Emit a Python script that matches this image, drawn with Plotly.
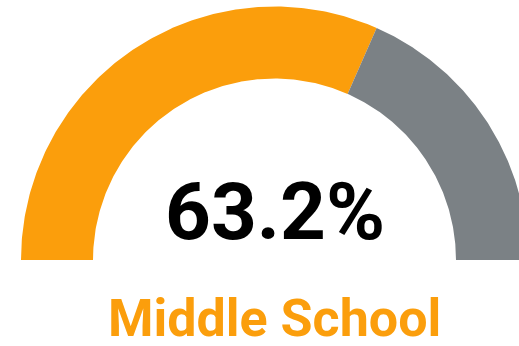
import numpy as np
import plotly.graph_objects as go

# Data
category = "Middle School"
value_pct = 63.2
remainder_pct = 100 - value_pct
colors = ["#FB9E0C", "#7B8185"]

R_OUT = 253.5
R_IN = 181.5

def arc(start_frac, end_frac, n=200):
    # fractions of the half circle measured from the left end (180 deg) clockwise
    a0 = np.pi * (1 - start_frac)
    a1 = np.pi * (1 - end_frac)
    t = np.linspace(a0, a1, n)
    xo, yo = R_OUT * np.cos(t), R_OUT * np.sin(t)
    xi, yi = R_IN * np.cos(t[::-1]), R_IN * np.sin(t[::-1])
    x = np.concatenate([xo, xi, xo[:1]])
    y = np.concatenate([yo, yi, yo[:1]])
    return x, y

fig = go.Figure()
segments = [(0, value_pct / 100), (value_pct / 100, 1)]
for (s, e), c in zip(segments, colors):
    x, y = arc(s, e)
    fig.add_trace(go.Scatter(x=x, y=y, fill="toself", fillcolor=c, mode="lines",
                             line=dict(width=0, color=c), hoverinfo="skip",
                             showlegend=False))

fig.add_annotation(x=0, y=48.5, text=f"<b>{value_pct:.1f}%</b>", showarrow=False,
                   xanchor="center", yanchor="middle",
                   font=dict(family="Roboto", size=80, color="#000000"))
fig.add_annotation(x=0, y=-58.5, text=f"<b>{category}</b>", showarrow=False,
                   xanchor="center", yanchor="middle",
                   font=dict(family="Roboto", size=52, color=colors[0]))

fig.update_layout(
    width=519, height=346, margin=dict(l=0, r=0, t=0, b=0),
    paper_bgcolor="white", plot_bgcolor="white",
    xaxis=dict(range=[-274.5, 244.5], visible=False, fixedrange=True),
    yaxis=dict(range=[-86, 260], visible=False, fixedrange=True),
)
fig.write_html("out.html", config={"displayModeBar": False})
